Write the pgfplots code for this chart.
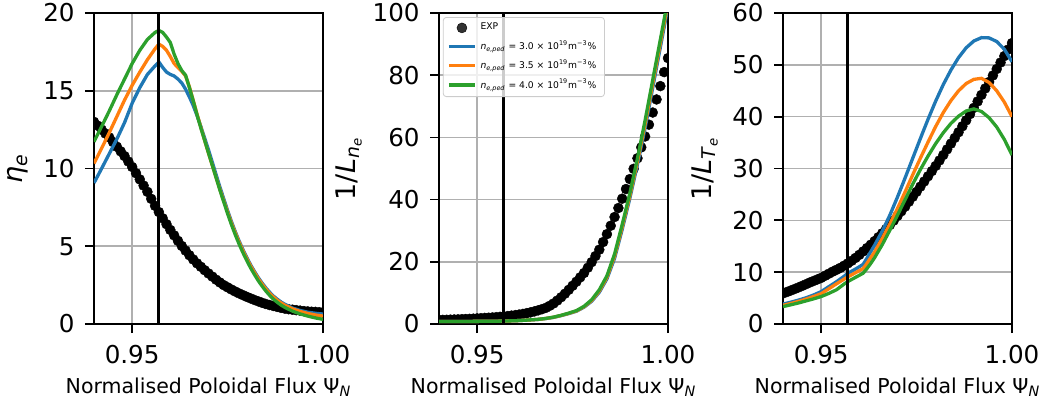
\documentclass[border=0pt]{standalone}
\usepackage{pgfplots}
\pgfplotsset{compat=1.18}
\usepackage{pgfplotstable}
\usepackage{fontspec}
\setmainfont{DejaVu Sans}
\definecolor{tabblue}{HTML}{1F77B4}
\definecolor{taborange}{HTML}{FF7F0E}
\definecolor{tabgreen}{HTML}{2CA02C}
\definecolor{gridgray}{HTML}{B0B0B0}

\pgfplotstableread{
x eta lne lte
0.940 13.0 1.3 5.9
0.941 12.75 1.32 6.17
0.942 12.5 1.35 6.45
0.943 12.25 1.4 6.74
0.944 12.0 1.45 7.04
0.945 11.7 1.5 7.35
0.946 11.4 1.55 7.67
0.947 11.1 1.6 8.0
0.948 10.8 1.65 8.3
0.949 10.45 1.72 8.6
0.950 10.1 1.8 8.9
0.951 9.7 1.87 9.3
0.952 9.3 1.95 9.7
0.953 8.9 2.02 10.1
0.954 8.5 2.1 10.45
0.955 8.05 2.2 10.82
0.956 7.6 2.3 11.25
0.957 7.2 2.42 11.7
0.958 6.8 2.55 12.2
0.959 6.42 2.7 12.75
0.960 6.05 2.85 13.35
0.961 5.7 3.04 14.0
0.962 5.35 3.25 14.65
0.963 5.02 3.49 15.3
0.964 4.72 3.75 16.0
0.965 4.42 4.06 16.75
0.966 4.15 4.4 17.5
0.967 3.9 4.78 18.3
0.968 3.68 5.2 19.1
0.969 3.46 5.85 19.95
0.970 3.25 6.6 20.85
0.971 3.05 7.55 21.75
0.972 2.85 8.6 22.65
0.973 2.67 9.75 23.6
0.974 2.5 11.0 24.55
0.975 2.36 12.3 25.5
0.976 2.22 13.6 26.5
0.977 2.09 15.0 27.5
0.978 1.97 16.4 28.5
0.979 1.86 18.1 29.5
0.980 1.75 19.9 30.5
0.981 1.65 21.85 31.55
0.982 1.55 23.9 32.6
0.983 1.46 26.35 33.7
0.984 1.37 28.9 34.8
0.985 1.29 31.6 35.9
0.986 1.22 34.4 37.0
0.987 1.16 37.3 38.15
0.988 1.1 40.3 39.3
0.989 1.04 43.4 40.5
0.990 0.99 46.6 41.7
0.991 0.95 49.9 42.95
0.992 0.92 53.3 44.2
0.993 0.89 56.8 45.45
0.994 0.86 60.3 46.7
0.995 0.83 64.1 47.95
0.996 0.81 68.0 49.2
0.997 0.79 72.2 50.45
0.998 0.78 76.5 51.7
0.999 0.76 81.0 52.95
1.000 0.75 85.5 54.2
}\exptable

\pgfplotstableread{
x b o g
0.940 9.07 10.33 11.72
0.942 10.0 11.3 12.7
0.944 10.95 12.3 13.7
0.946 11.9 13.35 14.75
0.948 12.95 14.4 15.75
0.950 14.2 15.35 16.75
0.952 15.2 16.2 17.6
0.954 16.05 17.0 18.3
0.956 16.6 17.7 18.75
0.957 16.85 18.0 18.88
0.958 16.5 17.85 18.75
0.959 16.2 17.6 18.45
0.960 16.05 17.2 18.1
0.961 15.95 16.75 17.35
0.962 15.75 16.5 16.75
0.963 15.5 16.25 16.3
0.964 15.1 15.95 16.0
0.965 14.6 15.25 15.2
0.966 14.05 14.38 14.35
0.967 13.4 13.5 13.45
0.968 12.7 12.65 12.6
0.969 11.95 11.8 11.8
0.970 11.2 10.98 11.0
0.971 10.4 10.2 10.2
0.972 9.6 9.42 9.4
0.973 8.8 8.65 8.6
0.974 8.05 7.92 7.85
0.975 7.3 7.2 7.1
0.976 6.6 6.5 6.4
0.977 5.95 5.87 5.75
0.978 5.35 5.27 5.15
0.979 4.8 4.72 4.6
0.980 4.3 4.22 4.1
0.981 3.82 3.75 3.62
0.982 3.4 3.33 3.2
0.983 3.0 2.93 2.8
0.984 2.65 2.58 2.45
0.985 2.33 2.26 2.13
0.986 2.05 1.98 1.85
0.987 1.8 1.74 1.6
0.988 1.6 1.53 1.4
0.989 1.42 1.36 1.22
0.990 1.27 1.21 1.07
0.992 1.03 0.98 0.83
0.994 0.87 0.81 0.65
0.996 0.76 0.68 0.51
0.998 0.69 0.58 0.39
1.000 0.64 0.51 0.30
}\etamodel

\pgfplotstableread{
x b o g
0.940 0.8 0.8 0.8
0.945 0.8 0.8 0.8
0.950 0.85 0.85 0.85
0.955 0.9 0.9 0.9
0.960 1.05 1.05 1.05
0.963 1.25 1.25 1.25
0.966 1.48 1.49 1.5
0.968 1.76 1.78 1.8
0.970 2.13 2.17 2.2
0.972 2.7 2.75 2.8
0.974 3.35 3.42 3.5
0.976 4.1 4.2 4.3
0.978 5.4 5.55 5.7
0.980 7.3 7.55 7.8
0.982 10.2 10.6 11.0
0.984 14.5 15.0 15.5
0.986 21.1 21.8 22.5
0.988 30.4 31.2 32.0
0.990 40.4 41.2 42.0
0.992 51.3 52.3 53.3
0.994 63.0 64.3 65.5
0.996 76.0 77.3 78.5
0.998 89.0 90.3 91.5
1.000 102.0 103.2 104.5
}\lnemodel

\pgfplotstableread{
x b o g
0.940 3.85 3.6 3.35
0.942 4.2 3.95 3.7
0.944 4.6 4.35 4.05
0.946 5.05 4.8 4.45
0.948 5.6 5.3 4.85
0.950 6.25 5.85 5.3
0.952 7.2 6.8 5.9
0.954 8.15 7.75 6.6
0.956 9.2 8.65 7.7
0.957 9.8 9.1 8.2
0.958 10.2 9.5 8.6
0.959 10.6 9.9 9.0
0.960 11.05 10.3 9.4
0.961 11.5 10.7 9.8
0.962 12.7 11.7 10.7
0.963 13.95 12.8 11.7
0.964 15.2 13.9 12.8
0.966 17.9 16.5 15.3
0.968 21.0 19.3 18.1
0.970 24.5 22.3 21.0
0.972 28.2 25.5 24.0
0.974 32.0 28.8 27.0
0.976 35.8 32.0 29.8
0.978 39.5 35.1 32.4
0.980 43.0 38.1 34.8
0.982 46.2 40.8 36.9
0.984 49.0 43.1 38.7
0.986 51.4 45.0 40.1
0.988 53.3 46.4 41.1
0.990 54.6 47.2 41.5
0.992 55.25 47.4 41.0
0.994 55.2 46.6 39.8
0.996 54.5 45.0 38.0
0.998 53.0 42.8 35.6
1.000 50.6 40.0 32.6
}\ltemodel

\pgfplotsset{
  panel/.style={
    scale only axis, width=114.5pt, height=155.5pt,
    xmin=0.94, xmax=1.0, xtick={0.95,1.0}, xticklabels={0.95,1.00},
    ymin=0,
    clip marker paths=true,
    tick pos=left, tick align=outside, major tick length=4.5pt,
    minor tick num=0,
    grid=major, major grid style={gridgray, line width=0.8pt},
    axis line style={line width=0.85pt},
    tick style={black, line width=0.85pt},
    tick label style={font=\fontsize{12.3}{14}\selectfont},
    yticklabel style={/pgf/number format/assume math mode=true, anchor=east, inner sep=0pt, xshift=-5pt},
    xticklabel style={anchor=north, inner sep=0pt, yshift=-6pt},
    xlabel={Normalised Poloidal Flux Ψ\textsubscript{\textit{N}}},
    xlabel style={font=\fontsize{10.25}{12}\selectfont, at={(axis description cs:0.5,-0.222)}, anchor=base, inner sep=0pt},
    ylabel style={font=\fontsize{13.5}{16}\selectfont, anchor=south, inner sep=0pt},
    legend image code/.code={\draw[mark repeat=2,mark phase=2,#1] plot coordinates {(0pt,0pt) (6.5pt,0pt) (13pt,0pt)};},
  },
  expstyle/.style={only marks, mark=*, mark size=2.5pt, black, mark options={draw=black, fill=black, line width=0.2pt}},
  modstyle/.style={line width=1.65pt, #1},
  vline/.style={black, line width=1.6pt},
}

\begin{document}
\begin{tikzpicture}
\useasboundingbox (-47pt,-40pt) rectangle (475.5pt,162pt);
% Panel 1
\begin{axis}[panel, at={(0pt,0pt)}, ymax=20, ytick={0,5,10,15,20},
  ylabel={\textit{η}\textsubscript{\textit{e}}},
  ylabel style={at={(axis description cs:-0.285,0.5)}}]
\addplot[expstyle] table[x=x,y=eta]{\exptable};
\addplot[modstyle=tabblue] table[x=x,y=b]{\etamodel};
\addplot[modstyle=taborange] table[x=x,y=o]{\etamodel};
\addplot[modstyle=tabgreen] table[x=x,y=g]{\etamodel};
\addplot[vline] coordinates {(0.957,0) (0.957,20)};
\end{axis}
% Panel 2
\begin{axis}[panel, at={(172.5pt,0pt)}, ymax=100, ytick={0,20,40,60,80,100},
  ylabel={1/\textit{L}\textsubscript{\textit{n}\textsubscript{\textit{e}}}},
  ylabel style={at={(axis description cs:-0.335,0.5)}},
  legend cell align=left,
  legend style={at={(0.017,0.987)}, anchor=north west, draw=black!20, rounded corners=1.5pt,
    fill=white, fill opacity=0.8, text opacity=1, font=\fontsize{4.6}{5.5}\selectfont,
    inner xsep=2pt, inner ysep=1.2pt, row sep=0.6pt,
    nodes={inner ysep=1.6pt}}]
\addplot[expstyle] table[x=x,y=lne]{\exptable};
\addlegendentry{EXP}
\addplot[modstyle=tabblue] table[x=x,y=b]{\lnemodel};
\addlegendentry{\textit{n}\textsubscript{\textit{e,ped}} = 3.0 × 10\textsuperscript{19}m\textsuperscript{−3}\%}
\addplot[modstyle=taborange] table[x=x,y=o]{\lnemodel};
\addlegendentry{\textit{n}\textsubscript{\textit{e,ped}} = 3.5 × 10\textsuperscript{19}m\textsuperscript{−3}\%}
\addplot[modstyle=tabgreen] table[x=x,y=g]{\lnemodel};
\addlegendentry{\textit{n}\textsubscript{\textit{e,ped}} = 4.0 × 10\textsuperscript{19}m\textsuperscript{−3}\%}
\addplot[vline, forget plot] coordinates {(0.957,0) (0.957,100)};
\end{axis}
% Panel 3
\begin{axis}[panel, at={(344.5pt,0pt)}, ymax=60, ytick={0,10,20,30,40,50,60},
  ylabel={1/\textit{L}\textsubscript{\textit{T}\textsubscript{\textit{e}}}},
  ylabel style={at={(axis description cs:-0.283,0.5)}}]
\addplot[expstyle] table[x=x,y=lte]{\exptable};
\addplot[modstyle=tabblue] table[x=x,y=b]{\ltemodel};
\addplot[modstyle=taborange] table[x=x,y=o]{\ltemodel};
\addplot[modstyle=tabgreen] table[x=x,y=g]{\ltemodel};
\addplot[vline] coordinates {(0.957,0) (0.957,60)};
\end{axis}
\end{tikzpicture}
\end{document}
